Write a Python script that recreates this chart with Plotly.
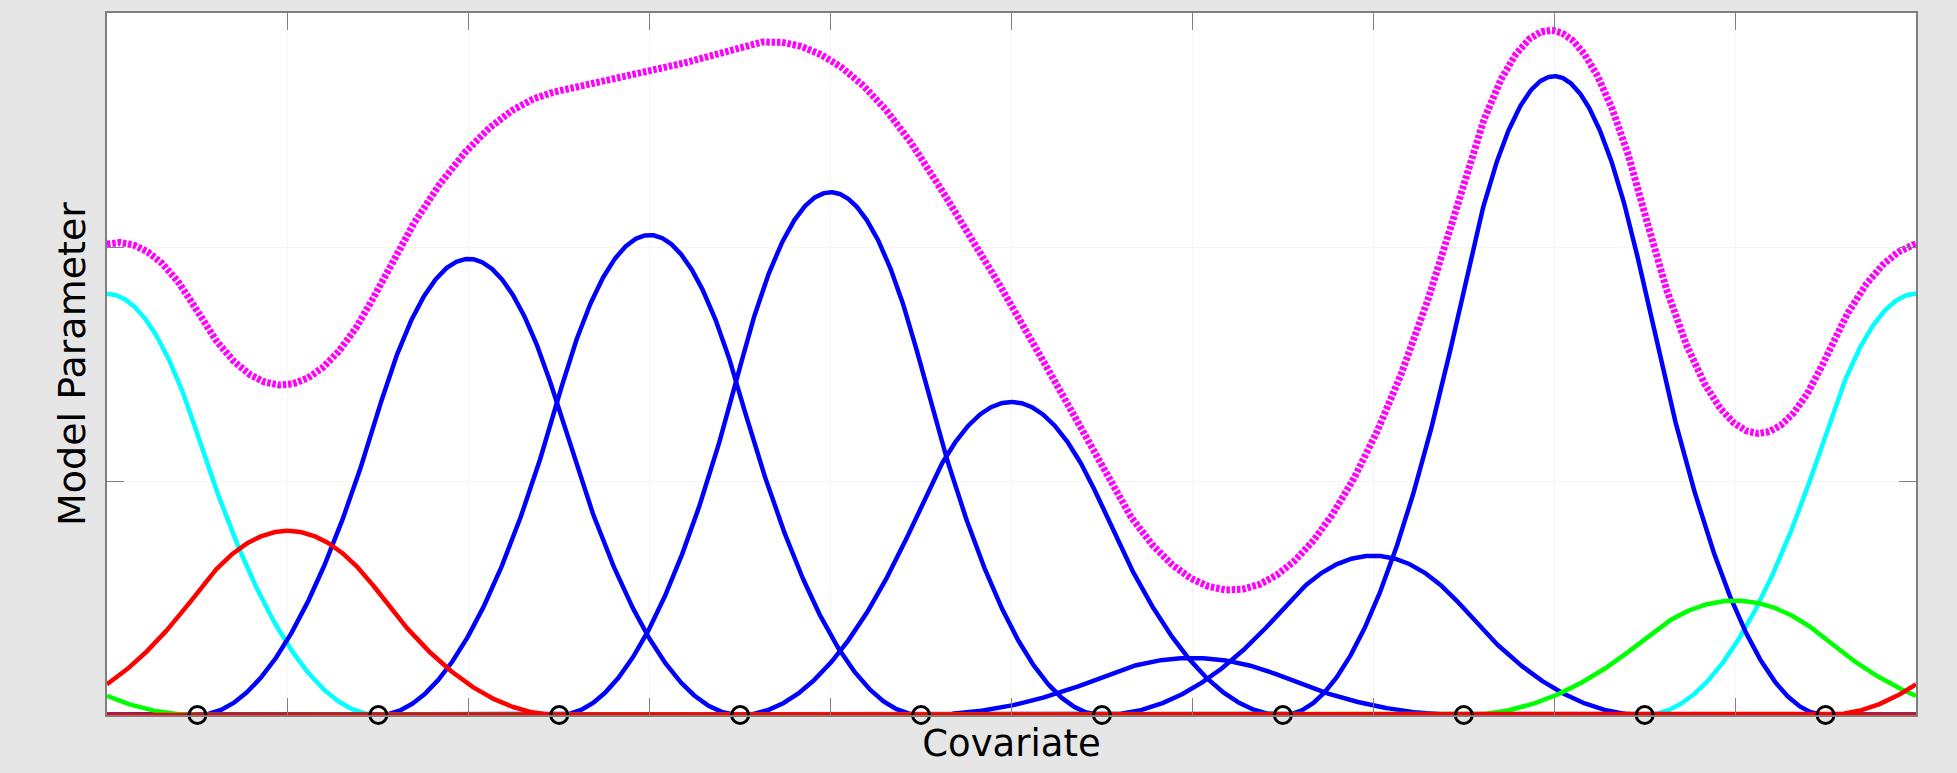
import numpy as np
import plotly.graph_objects as go

# Periodic quadratic B-spline basis on [0, 10], unit knot spacing
period = 10.0
knots = [0.5, 1.5, 2.5, 3.5, 4.5, 5.5, 6.5, 7.5, 8.5, 9.5]
centers = [0, 1, 2, 3, 4, 5, 6, 7, 8, 9]
# height of each weighted basis function at its centre
peak_heights = [1.80, 0.787, 1.949, 2.051, 2.234, 1.338, 0.244, 0.681, 2.73, 0.489]
colors = ["#00ffff", "#ff0000", "#0000ff", "#0000ff", "#0000ff",
          "#0000ff", "#0000ff", "#0000ff", "#0000ff", "#00ff00"]

x = np.linspace(0, period, 2001)


def bspline2(xv, c):
    """Quadratic B-spline with unit knot spacing centred at c, peak scaled to 1."""
    t = xv - c + 1.5
    y = np.zeros_like(t)
    m0 = (t >= 0) & (t < 1)
    m1 = (t >= 1) & (t < 2)
    m2 = (t >= 2) & (t <= 3)
    y[m0] = t[m0] ** 2 / 2
    y[m1] = (-2 * t[m1] ** 2 + 6 * t[m1] - 3) / 2
    y[m2] = (3 - t[m2]) ** 2 / 2
    return y / 0.75


fig = go.Figure()

# draw order: cyan, blues, green, red (red wrap copy ends up on top)
order = [0, 2, 3, 4, 5, 6, 7, 8, 9, 1]
total = np.zeros_like(x)
for i in order:
    c, h, col = centers[i], peak_heights[i], colors[i]
    for shift in (-period, 0.0, period):
        y = h * bspline2(x, c + shift)
        total += y
        if shift != 0.0 and not np.any(y > 0):
            continue
        fig.add_trace(go.Scatter(
            x=x, y=y, mode="lines",
            line=dict(color=col, width=4.5),
            hoverinfo="skip", showlegend=False,
        ))

# sum of all basis functions
fig.add_trace(go.Scatter(
    x=x, y=total, mode="lines",
    line=dict(color="#ff00ff", width=7, dash="3.5px,1.8px"),
    hoverinfo="skip", showlegend=False,
))

# knot markers
fig.add_trace(go.Scatter(
    x=knots, y=[0] * len(knots), mode="markers", cliponaxis=False,
    marker=dict(symbol="circle-open", size=17, color="black",
                line=dict(color="black", width=3)),
    hoverinfo="skip", showlegend=False,
))

axis_common = dict(
    showline=True, linecolor="#7f7f7f", linewidth=1.5, mirror="ticks",
    ticks="inside", ticklen=17, tickcolor="#7f7f7f", tickwidth=1,
    showticklabels=False, showgrid=True, gridcolor="#f5f5f5", gridwidth=1,
    zeroline=False,
)

fig.update_layout(
    width=1957, height=773,
    margin=dict(l=107, r=41, t=13, b=58),
    paper_bgcolor="#e6e6e6", plot_bgcolor="white",
    font=dict(family="DejaVu Sans", color="black"),
    xaxis=dict(range=[0, period], tickmode="linear", tick0=0, dtick=1,
               title=dict(text="Covariate", font=dict(size=37), standoff=14),
               **axis_common),
    yaxis=dict(range=[0, 3], tickmode="linear", tick0=0, dtick=1,
               title=dict(text="Model Parameter", font=dict(size=38), standoff=8),
               **axis_common),
)

fig.write_html("out.html")
